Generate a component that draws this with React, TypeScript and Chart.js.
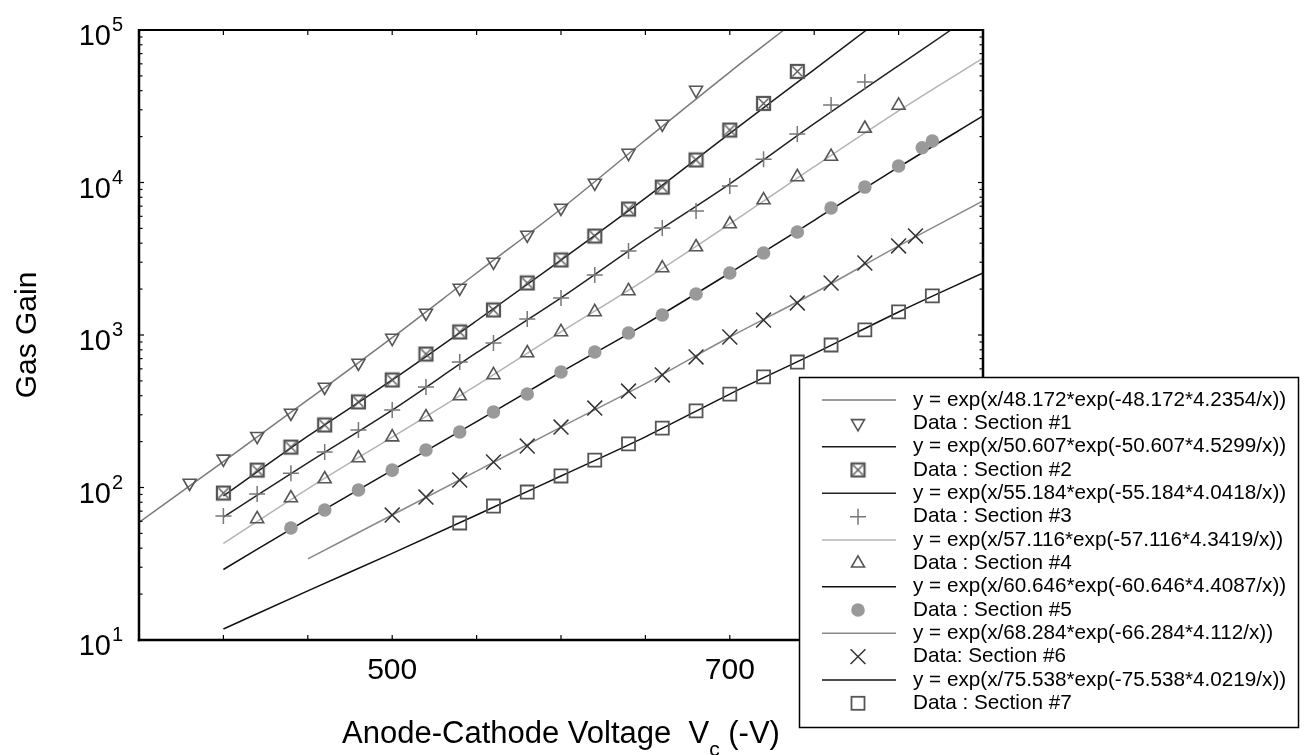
import React, { useEffect, useRef } from 'react';
import { Chart, registerables } from 'chart.js';

Chart.register(...registerables);

const FONT = '"Liberation Sans", Arial, Helvetica, sans-serif';

// ---- axis settings ----
const X_MIN = 350;
const X_MAX = 850;
const Y_MIN = 10;
const Y_MAX = 100000;
const xTickValues = [400, 450, 500, 550, 600, 650, 700, 750, 800];
const xLabelValues = [500, 700];
const yExponents = [1, 2, 3, 4, 5];

const sec1X = [380, 400, 420, 440, 460, 480, 500, 520, 540, 560, 580, 600, 620, 640, 660, 680];
const sec1Y = [107, 154, 217, 308, 456, 655, 955, 1394, 2033, 3013, 4528, 6804, 9930, 15600, 24200, 40400];

const sec2X = [400, 420, 440, 460, 480, 500, 520, 540, 560, 580, 600, 620, 640, 660, 680, 700, 720, 740];
const sec2Y = [92, 130, 184, 257, 364, 507, 750, 1047, 1459, 2193, 3105, 4457, 6699, 9333, 14050, 22080, 33000, 53500];

const sec3X = [400, 420, 440, 460, 480, 500, 520, 540, 560, 580, 600, 620, 640, 660, 680, 700, 720, 740, 760, 780];
const sec3Y = [65, 90.7, 124, 171, 238, 322, 456, 665, 887, 1274, 1750, 2473, 3556, 5035, 6501, 9480, 14200, 20800, 32200, 45600];

const sec4X = [420, 440, 460, 480, 500, 520, 540, 560, 580, 600, 620, 640, 660, 680, 700, 720, 740, 760, 780, 800];
const sec4Y = [62.2, 85.3, 113.7, 156, 214, 290, 398, 547, 762, 1047, 1416, 1944, 2748, 3775, 5346, 7674, 10870, 14800, 22600, 32000];

const sec5X = [440, 460, 480, 500, 520, 540, 560, 580, 600, 620, 640, 660, 680, 700, 720, 740, 760, 780, 800, 814, 820];
const sec5Y = [54.3, 71.2, 96.3, 130, 176, 231, 313, 410, 572, 774, 1030, 1352, 1858, 2552, 3451, 4733, 6804, 9333, 12820, 16900, 18700];

const sec6X = [500, 520, 540, 560, 580, 600, 620, 640, 660, 680, 700, 720, 740, 760, 780, 800, 810];
const sec6Y = [66, 86.6, 112, 147, 187, 249, 332, 429, 547, 718, 970, 1253, 1622, 2193, 2965, 3837, 4460];

const sec7X = [540, 560, 580, 600, 620, 640, 660, 680, 700, 720, 740, 760, 780, 800, 820];
const sec7Y = [58.5, 75.6, 93.4, 119, 151, 193, 245, 318, 410, 531, 665, 860, 1079, 1416, 1803];

// ---- fitted curves ----
const fit1X = [350, 400, 450, 500, 550, 600, 650, 700, 732];
const fit1Y = [59, 148, 375, 960, 2550, 6700, 19000, 53000, 100000];

const fit2X = [400, 450, 500, 550, 600, 650, 700, 750, 781];
const fit2Y = [88, 217, 507, 1240, 3100, 7900, 21000, 55000, 100000];

const fit3X = [400, 450, 500, 550, 600, 650, 700, 750, 800, 831];
const fit3Y = [64, 145, 322, 765, 1750, 4230, 9800, 24300, 58500, 100000];

const fit4X = [400, 450, 500, 550, 600, 650, 700, 750, 800, 850];
const fit4Y = [43, 98, 214, 467, 1047, 2310, 5346, 12700, 29500, 65500];

const fit5X = [400, 450, 500, 550, 600, 650, 700, 750, 800, 850];
const fit5Y = [29, 62, 130, 270, 572, 1180, 2552, 5650, 12600, 27300];

const fit6X = [450, 500, 550, 600, 650, 700, 750, 800, 850];
const fit6Y = [34, 66, 128, 249, 480, 970, 1886, 3837, 7570];

const fit7X = [400, 450, 500, 550, 600, 650, 700, 750, 800, 850];
const fit7Y = [11.8, 21, 37, 66, 119, 215, 410, 755, 1416, 2550];

const legendLabels = [
  'y = exp(x/48.172*exp(-48.172*4.2354/x))',
  'Data : Section #1',
  'y = exp(x/50.607*exp(-50.607*4.5299/x))',
  'Data : Section #2',
  'y = exp(x/55.184*exp(-55.184*4.0418/x))',
  'Data : Section #3',
  'y = exp(x/57.116*exp(-57.116*4.3419/x))',
  'Data : Section #4',
  'y = exp(x/60.646*exp(-60.646*4.4087/x))',
  'Data : Section #5',
  'y = exp(x/68.284*exp(-66.284*4.112/x))',
  'Data: Section #6',
  'y = exp(x/75.538*exp(-75.538*4.0219/x))',
  'Data : Section #7',
];

const lineColors = ['#7a7a7a', '#1a1a1a', '#222222', '#b4b4b4', '#111111', '#8a8a8a', '#111111'];

type MarkerKind = 'down' | 'boxx' | 'plus' | 'up' | 'dot' | 'x' | 'square';
const markerKinds: MarkerKind[] = ['down', 'boxx', 'plus', 'up', 'dot', 'x', 'square'];
const markerColors = ['#555555', '#555555', '#777777', '#555555', '#999999', '#333333', '#555555'];

const pts = (xs: number[], ys: number[]) => xs.map((x, i) => ({ x, y: ys[i] }));

function makeBoxX(color: string): HTMLCanvasElement {
  const c = document.createElement('canvas');
  c.width = 17;
  c.height = 17;
  const g = c.getContext('2d')!;
  g.strokeStyle = color;
  g.lineWidth = 2.2;
  g.strokeRect(2, 2, 13, 13);
  g.lineWidth = 1.4;
  g.beginPath();
  g.moveTo(3.5, 3.5);
  g.lineTo(13.5, 13.5);
  g.moveTo(13.5, 3.5);
  g.lineTo(3.5, 13.5);
  g.stroke();
  return c;
}

function drawMarker(ctx: CanvasRenderingContext2D, kind: MarkerKind, color: string, x: number, y: number, boxImg: HTMLCanvasElement) {
  ctx.save();
  ctx.strokeStyle = color;
  ctx.fillStyle = color;
  ctx.lineWidth = 1.6;
  ctx.beginPath();
  if (kind === 'down' || kind === 'up') {
    const r = 7.5;
    let rad = kind === 'down' ? Math.PI : 0;
    ctx.moveTo(x + Math.sin(rad) * r, y - Math.cos(rad) * r);
    rad += (2 * Math.PI) / 3;
    ctx.lineTo(x + Math.sin(rad) * r, y - Math.cos(rad) * r);
    rad += (2 * Math.PI) / 3;
    ctx.lineTo(x + Math.sin(rad) * r, y - Math.cos(rad) * r);
    ctx.closePath();
    ctx.stroke();
  } else if (kind === 'boxx') {
    ctx.drawImage(boxImg, x - boxImg.width / 2, y - boxImg.height / 2);
  } else if (kind === 'plus') {
    const r = 8;
    ctx.lineWidth = 1.5;
    ctx.moveTo(x, y - r);
    ctx.lineTo(x, y + r);
    ctx.moveTo(x - r, y);
    ctx.lineTo(x + r, y);
    ctx.stroke();
  } else if (kind === 'x') {
    const o = 10.5 * Math.SQRT1_2;
    ctx.lineWidth = 1.5;
    ctx.moveTo(x - o, y - o);
    ctx.lineTo(x + o, y + o);
    ctx.moveTo(x - o, y + o);
    ctx.lineTo(x + o, y - o);
    ctx.stroke();
  } else if (kind === 'dot') {
    ctx.arc(x, y, 6.8, 0, Math.PI * 2);
    ctx.fill();
  } else if (kind === 'square') {
    const h = 9.2 * Math.SQRT1_2;
    ctx.lineWidth = 1.8;
    ctx.strokeRect(x - h, y - h, 2 * h, 2 * h);
  }
  ctx.restore();
}

export default function App() {
  const canvasRef = useRef<HTMLCanvasElement | null>(null);

  useEffect(() => {
    const canvas = canvasRef.current;
    if (!canvas) return;
    const boxImg = makeBoxX(markerColors[1]);

    const fits = [
      pts(fit1X, fit1Y), pts(fit2X, fit2Y), pts(fit3X, fit3Y), pts(fit4X, fit4Y),
      pts(fit5X, fit5Y), pts(fit6X, fit6Y), pts(fit7X, fit7Y),
    ];
    const secs = [
      pts(sec1X, sec1Y), pts(sec2X, sec2Y), pts(sec3X, sec3Y), pts(sec4X, sec4Y),
      pts(sec5X, sec5Y), pts(sec6X, sec6Y), pts(sec7X, sec7Y),
    ];

    const lineSets = fits.map((d, i) => ({
      label: legendLabels[i * 2],
      data: d,
      showLine: true,
      borderColor: lineColors[i],
      borderWidth: 1.5,
      pointRadius: 0,
      fill: false,
      cubicInterpolationMode: 'monotone' as const,
      order: 2,
    }));

    const styleFor = (k: MarkerKind): any => {
      switch (k) {
        case 'down': return { pointStyle: 'triangle', pointRotation: 180, pointRadius: 7.5, pointBorderWidth: 1.6 };
        case 'up': return { pointStyle: 'triangle', pointRotation: 0, pointRadius: 7.5, pointBorderWidth: 1.6 };
        case 'boxx': return { pointStyle: boxImg, pointRadius: 8, pointBorderWidth: 1 };
        case 'plus': return { pointStyle: 'cross', pointRadius: 8, pointBorderWidth: 1.5 };
        case 'x': return { pointStyle: 'crossRot', pointRadius: 10.5, pointBorderWidth: 1.5 };
        case 'dot': return { pointStyle: 'circle', pointRadius: 6.8, pointBorderWidth: 0 };
        case 'square': return { pointStyle: 'rect', pointRadius: 9.2, pointBorderWidth: 1.8 };
      }
    };

    const markerSets = secs.map((d, i) => ({
      label: legendLabels[i * 2 + 1],
      data: d,
      showLine: false,
      borderColor: markerColors[i],
      pointBorderColor: markerColors[i],
      pointBackgroundColor: markerKinds[i] === 'dot' ? markerColors[i] : 'rgba(0,0,0,0)',
      ...styleFor(markerKinds[i]),
      order: 1,
    }));

    const framePlugin = {
      id: 'framePlugin',
      afterDraw(chart: any) {
        const { ctx, chartArea: a, scales } = chart;
        const xs = scales.x;
        const ys = scales.y;
        const seg = (x1: number, y1: number, x2: number, y2: number) => {
          ctx.beginPath();
          ctx.moveTo(x1, y1);
          ctx.lineTo(x2, y2);
          ctx.stroke();
        };
        ctx.save();
        ctx.strokeStyle = '#000';
        ctx.fillStyle = '#000';

        // frame
        ctx.lineWidth = 2.5;
        seg(a.left, a.top - 1, a.left, a.bottom + 1.2);
        seg(a.left - 1.2, a.bottom, a.right + 1.2, a.bottom);
        seg(a.right, a.top - 1, a.right, a.bottom + 1.2);
        ctx.lineWidth = 2;
        seg(a.left, a.top, a.right, a.top);

        // x ticks (inward, top and bottom)
        ctx.lineWidth = 1.2;
        for (const v of xTickValues) {
          const px = xs.getPixelForValue(v);
          seg(px, a.bottom, px, a.bottom - 5);
          seg(px, a.top, px, a.top + 5);
        }
        // y ticks (log, inward, left and right)
        for (let e = 1; e <= 5; e++) {
          for (let m = 1; m <= 9; m++) {
            const v = m * Math.pow(10, e);
            if (v > Y_MAX || (m > 1 && e === 5)) continue;
            const py = ys.getPixelForValue(v);
            const len = m === 1 ? 5 : 3.5;
            seg(a.left, py, a.left + len, py);
            seg(a.right, py, a.right - len, py);
          }
        }

        // y tick labels 10^n
        for (const e of yExponents) {
          const py = ys.getPixelForValue(Math.pow(10, e));
          ctx.textAlign = 'right';
          ctx.textBaseline = 'alphabetic';
          ctx.font = `29px ${FONT}`;
          ctx.fillText('10', 111, py + 15);
          ctx.textAlign = 'left';
          ctx.font = `20px ${FONT}`;
          ctx.fillText(String(e), 112, py + 1);
        }

        // x tick labels
        ctx.textAlign = 'center';
        ctx.textBaseline = 'alphabetic';
        ctx.font = `30px ${FONT}`;
        for (const v of xLabelValues) {
          ctx.fillText(String(v), xs.getPixelForValue(v), 679);
        }

        // x title with subscript
        const p1 = 'Anode-Cathode Voltage  V';
        const sub = 'c';
        const p2 = ' (-V)';
        ctx.font = `31px ${FONT}`;
        const w1 = ctx.measureText(p1).width;
        const w3 = ctx.measureText(p2).width;
        ctx.font = `21px ${FONT}`;
        const w2 = ctx.measureText(sub).width;
        const total = w1 + w2 + w3;
        let sx = (a.left + a.right) / 2 - total / 2;
        ctx.textAlign = 'left';
        ctx.font = `31px ${FONT}`;
        ctx.fillText(p1, sx, 743);
        sx += w1;
        ctx.font = `21px ${FONT}`;
        ctx.fillText(sub, sx, 756);
        sx += w2;
        ctx.font = `31px ${FONT}`;
        ctx.fillText(p2, sx, 743);

        // y title
        ctx.save();
        ctx.translate(36, (a.top + a.bottom) / 2);
        ctx.rotate(-Math.PI / 2);
        ctx.textAlign = 'center';
        ctx.textBaseline = 'alphabetic';
        ctx.font = `30px ${FONT}`;
        ctx.fillText('Gas Gain', 0, 0);
        ctx.restore();

        // legend box
        const lx = 799, ly = 377, lw = 499, lh = 350;
        ctx.fillStyle = '#fff';
        ctx.fillRect(lx, ly, lw, lh);
        ctx.strokeStyle = '#000';
        ctx.lineWidth = 1.5;
        ctx.strokeRect(lx + 0.5, ly + 0.5, lw, lh);
        const rowH = 23.33;
        for (let i = 0; i < legendLabels.length; i++) {
          const cy = 400 + i * rowH;
          const s = Math.floor(i / 2);
          if (i % 2 === 0) {
            ctx.strokeStyle = lineColors[s];
            ctx.lineWidth = 1.5;
            seg(822, cy, 896, cy);
          } else {
            drawMarker(ctx, markerKinds[s], markerColors[s], 858, cy, boxImg);
          }
          ctx.fillStyle = '#000';
          ctx.font = `20.7px ${FONT}`;
          ctx.textAlign = 'left';
          ctx.textBaseline = 'middle';
          ctx.fillText(legendLabels[i], 913, cy);
        }
        ctx.restore();
      },
    };

    const chart = new Chart(canvas, {
      type: 'line',
      data: { datasets: [...lineSets, ...markerSets] as any },
      options: {
        animation: false,
        responsive: false,
        devicePixelRatio: 1,
        layout: { padding: { left: 139, top: 30, right: 1306 - 983, bottom: 755 - 640 } },
        plugins: {
          legend: { display: false },
          tooltip: { enabled: false },
        },
        scales: {
          x: { type: 'linear', min: X_MIN, max: X_MAX, display: false },
          y: { type: 'logarithmic', min: Y_MIN, max: Y_MAX, display: false },
        },
      },
      plugins: [framePlugin],
    });

    return () => chart.destroy();
  }, []);

  return (
    <div style={{ position: 'absolute', left: 0, top: 0, width: 1306, height: 755, background: '#fff' }}>
      <canvas ref={canvasRef} width={1306} height={755} style={{ display: 'block', width: 1306, height: 755 }} />
    </div>
  );
}
